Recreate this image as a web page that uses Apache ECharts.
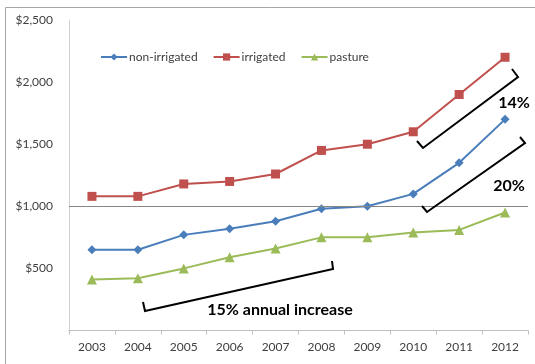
<!DOCTYPE html>
<html>
<head>
<meta charset="utf-8">
<script src="https://cdn.jsdelivr.net/npm/echarts@6/dist/echarts.min.js"></script>
<style>
  html, body { margin: 0; padding: 0; background: #fff; }
  #chart { width: 535px; height: 364px; }
</style>
</head>
<body>
<div id="chart"></div>
<script>
// Land values per acre, 2003-2012
const years = ['2003', '2004', '2005', '2006', '2007', '2008', '2009', '2010', '2011', '2012'];
const nonIrrigated = [650, 650, 770, 820, 880, 980, 1000, 1100, 1350, 1700];
const irrigated = [1080, 1080, 1180, 1200, 1260, 1450, 1500, 1600, 1900, 2200];
const pasture = [410, 420, 500, 590, 660, 750, 750, 790, 810, 950];
const yTicks = [0, 500, 1000, 1500, 2000, 2500];
const referenceValue = 1000;

const FONT = 'Lato, "Open Sans", sans-serif';
const textColor = '#404040';

const chart = echarts.init(document.getElementById('chart'), null, { renderer: 'canvas' });

function bracket(points) {
  return {
    type: 'polyline',
    shape: { points: points },
    style: { stroke: '#000', lineWidth: 2, fill: null },
    z: 10
  };
}
function note(text, x, y, align) {
  return {
    type: 'text',
    x: x, y: y,
    style: {
      text: text, fill: '#000', font: 'bold 16px ' + FONT,
      align: align || 'center', verticalAlign: 'middle'
    },
    z: 10
  };
}

chart.setOption({
  animation: false,
  backgroundColor: '#fff',
  grid: { left: 69, right: 7, top: 20, bottom: 33.5, containLabel: false },
  legend: {
    top: 46, left: 95,
    itemWidth: 26, itemHeight: 9, itemGap: 15,
    textStyle: { fontFamily: FONT, fontSize: 12, color: textColor, padding: [0, 0, 0, -3] },
    data: ['non-irrigated', 'irrigated', 'pasture']
  },
  xAxis: {
    type: 'category',
    data: years,
    boundaryGap: true,
    axisLine: { lineStyle: { color: '#bfbfbf', width: 1 } },
    axisTick: { show: true, length: 4, lineStyle: { color: '#bfbfbf' } },
    axisLabel: { fontFamily: FONT, fontSize: 12, color: textColor, margin: 11 },
    splitLine: { show: false }
  },
  yAxis: {
    type: 'value',
    min: yTicks[0], max: yTicks[yTicks.length - 1], interval: 500,
    axisLine: { show: true, lineStyle: { color: '#d0d0d0', width: 1 } },
    axisTick: { show: false },
    splitLine: { show: false },
    axisLabel: {
      fontFamily: FONT, fontSize: 12, color: textColor, margin: 16,
      showMinLabel: false,
      formatter: v => '$' + v.toLocaleString('en-US')
    }
  },
  series: [
    {
      name: 'non-irrigated', type: 'line', data: nonIrrigated,
      symbol: 'diamond', symbolSize: 9,
      lineStyle: { color: '#4a7ebb', width: 2 },
      itemStyle: { color: '#4a7ebb' },
      markLine: {
        silent: true, symbol: 'none', label: { show: false },
        lineStyle: { color: '#868686', width: 1, type: 'solid' },
        data: [{ yAxis: referenceValue }]
      }
    },
    {
      name: 'irrigated', type: 'line', data: irrigated,
      symbol: 'rect', symbolSize: 9,
      lineStyle: { color: '#c0504d', width: 2 },
      itemStyle: { color: '#c0504d' }
    },
    {
      name: 'pasture', type: 'line', data: pasture,
      symbol: 'triangle', symbolSize: 10,
      lineStyle: { color: '#9bbb59', width: 2 },
      itemStyle: { color: '#9bbb59' }
    }
  ],
  graphic: [
    {
      type: 'rect',
      shape: { x: 5.5, y: 7.5, width: 540, height: 370 },
      style: { stroke: '#a6a6a6', lineWidth: 1, fill: null },
      silent: true
    },
    bracket([[417, 141], [423, 148], [518, 77], [512, 69]]),
    bracket([[422, 206], [427, 212], [525, 143], [520, 137]]),
    bracket([[143, 302], [145, 311], [333, 269], [332, 261]]),
    note('14%', 514, 103),
    note('20%', 509, 186),
    note('15% annual increase', 280, 310)
  ]
});
</script>
</body>
</html>
